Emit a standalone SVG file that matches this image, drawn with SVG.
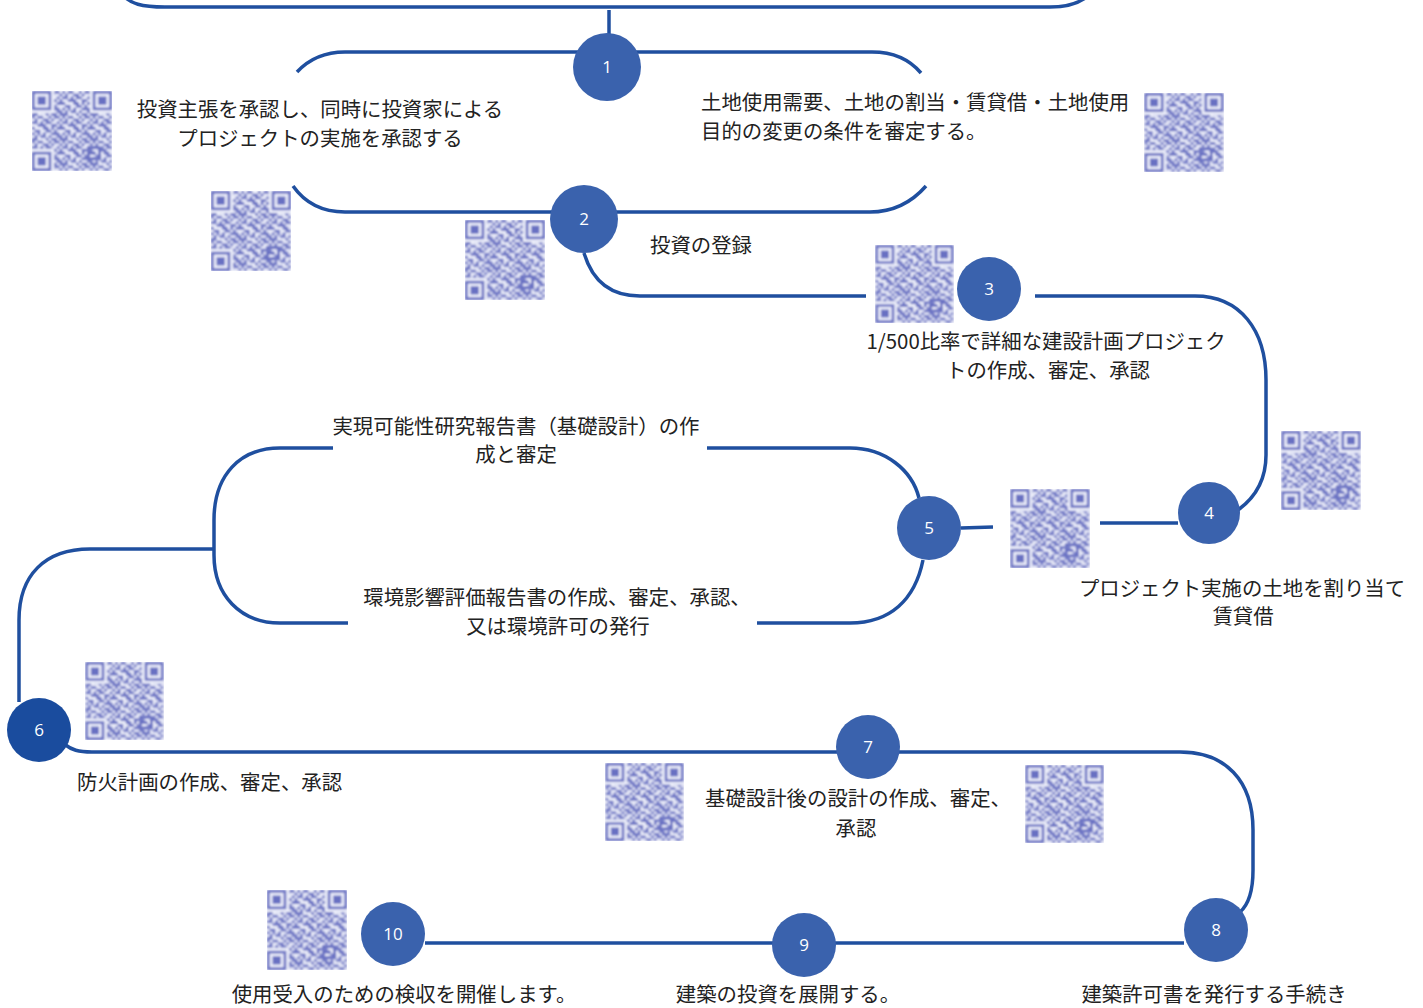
<svg xmlns="http://www.w3.org/2000/svg" xmlns:xlink="http://www.w3.org/1999/xlink" width="1423" height="1008" viewBox="0 0 1423 1008">
<style>
.ln{fill:none;stroke:#1f4f9f;stroke-width:3.5;stroke-linecap:butt}
.nd{fill:#3a62ad}
.nd6{fill:#1a4c9e}
.num{font-family:"Open Sans","Noto Sans",sans-serif;font-size:17px;fill:#fff;text-anchor:middle}
.t{font-family:"Noto Sans CJK JP","Noto Sans",sans-serif;font-size:20.4px;fill:#222}
.c{text-anchor:middle}
.qr{fill:#6870c2}
</style>
<defs>
<filter id="soft" x="-5%" y="-5%" width="110%" height="110%"><feGaussianBlur stdDeviation="0.3"/></filter>
<pattern id="qd" patternUnits="userSpaceOnUse" width="11" height="9">
<path class="qr" d="M0 0h1v1h-1zM2 0h2v1h-2zM6 0h1v1h-1zM8 0h2v1h-2zM1 1h1v1h-1zM4 1h2v1h-2zM7 1h1v1h-1zM10 1h1v1h-1zM0 2h2v1h-2zM3 2h1v1h-1zM5 2h2v1h-2zM9 2h1v1h-1zM2 3h3v1h-3zM7 3h2v1h-2zM10 3h1v1h-1zM0 4h1v1h-1zM4 4h2v1h-2zM7 4h1v1h-1zM9 4h2v1h-2zM1 5h2v1h-2zM5 5h2v1h-2zM8 5h1v1h-1zM0 6h1v1h-1zM2 6h1v1h-1zM4 6h1v1h-1zM7 6h3v1h-3zM1 7h1v1h-1zM3 7h2v1h-2zM6 7h1v1h-1zM9 7h2v1h-2zM0 8h2v1h-2zM5 8h1v1h-1zM7 8h2v1h-2zM10 8h1v1h-1z"/>
</pattern>
<symbol id="qrc" viewBox="0 0 29 29">
<g filter="url(#soft)">
<rect width="29" height="29" fill="#eef0fa"/>
<rect width="29" height="29" fill="url(#qd)"/>
<path fill="#eef0fa" d="M0 0h8v8h-8zM21 0h8v8h-8zM0 21h8v8h-8z"/>
<path class="qr" fill-rule="evenodd" d="M0 0h7v7h-7zM1 1v5h5v-5zM2 2h3v3h-3zM22 0h7v7h-7zM23 1v5h5v-5zM24 2h3v3h-3zM0 22h7v7h-7zM1 23v5h5v-5zM2 24h3v3h-3zM20 20h5v5h-5zM21 21v3h3v-3zM22 22h1v1h-1z"/>
</g>
</symbol>
</defs>
<rect width="1423" height="1008" fill="#fff"/>
<g id="connectors">
<path class="ln" d="M122 -6 C130 4 142 7 165 7 H1050 C1070 7 1082 2 1090 -6"/>
<path class="ln" d="M609 10 V34"/>
<path class="ln" d="M297 72 C310 58 325 52 345 52 H872 C895 52 910 60 921 73"/>
<path class="ln" d="M293 186 C305 203 322 212 345 212 H870 C893 212 912 202 926 186"/>
<path class="ln" d="M584 253 C592 280 610 296 640 296 H866"/>
<path class="ln" d="M1035 296 H1195 C1240 296 1266 330 1266 380 V455 C1266 478 1256 497 1238 510"/>
<path class="ln" d="M1178 523 H1100"/>
<path class="ln" d="M993 527 L961 528"/>
<path class="ln" d="M707 448 H850 C885 448 912 470 919 498"/>
<path class="ln" d="M923 560 C915 600 890 623 850 623 H757"/>
<path class="ln" d="M333 448 H280 C240 448 214 475 214 520 V555 C214 595 240 623 280 623 H348"/>
<path class="ln" d="M214 549 H90 C45 549 19 575 19 620 V702"/>
<path class="ln" d="M64 744 C72 750 78 752 92 752 H1180 C1225 752 1253 780 1253 830 V870 C1253 890 1248 905 1240 912"/>
<path class="ln" d="M1184 943 H425"/>
</g>
<g id="qrcodes">
<use id="qr1" xlink:href="#qrc" x="32" y="91" width="80" height="80"/>
<use id="qr2" xlink:href="#qrc" x="211" y="191" width="80" height="80"/>
<use id="qr3" xlink:href="#qrc" x="465" y="220" width="80" height="80"/>
<use id="qr4" xlink:href="#qrc" x="1144" y="93" width="80" height="79"/>
<use id="qr5" xlink:href="#qrc" x="875" y="245" width="79" height="78"/>
<use id="qr6" xlink:href="#qrc" x="1281" y="431" width="80" height="79"/>
<use id="qr7" xlink:href="#qrc" x="1010" y="489" width="80" height="79"/>
<use id="qr8" xlink:href="#qrc" x="85" y="662" width="79" height="78"/>
<use id="qr9" xlink:href="#qrc" x="605" y="763" width="79" height="78"/>
<use id="qr10" xlink:href="#qrc" x="1025" y="765" width="79" height="78"/>
<use id="qr11" xlink:href="#qrc" x="267" y="890" width="80" height="80"/>
</g>
<g id="node1"><circle class="nd" cx="607" cy="67" r="34"/><text class="num" x="607" y="73">1</text></g>
<g id="node2"><circle class="nd" cx="584" cy="219" r="34"/><text class="num" x="584" y="225">2</text></g>
<g id="node3"><circle class="nd" cx="989" cy="289" r="32"/><text class="num" x="989" y="295">3</text></g>
<g id="node4"><circle class="nd" cx="1209" cy="513" r="31"/><text class="num" x="1209" y="519">4</text></g>
<g id="node5"><circle class="nd" cx="929" cy="528" r="32"/><text class="num" x="929" y="534">5</text></g>
<g id="node6"><circle class="nd6" cx="39" cy="730" r="32"/><text class="num" x="39" y="736">6</text></g>
<g id="node7"><circle class="nd" cx="868" cy="747" r="32"/><text class="num" x="868" y="753">7</text></g>
<g id="node8"><circle class="nd" cx="1216" cy="930" r="32"/><text class="num" x="1216" y="936">8</text></g>
<g id="node9"><circle class="nd" cx="804" cy="945" r="32"/><text class="num" x="804" y="951">9</text></g>
<g id="node10"><circle class="nd" cx="393" cy="934" r="32"/><text class="num" x="393" y="940">10</text></g>
<g id="labels">
<text class="t c" x="320" y="117">投資主張を承認し、同時に投資家による</text>
<text class="t c" x="320" y="146">プロジェクトの実施を承認する</text>
<text class="t" x="701" y="110">土地使用需要、土地の割当・賃貸借・土地使用</text>
<text class="t" x="701" y="139">目的の変更の条件を審定する。</text>
<text class="t" x="650" y="253">投資の登録</text>
<text class="t c" x="1046" y="349">1/500比率で詳細な建設計画プロジェク</text>
<text class="t c" x="1048" y="378">トの作成、審定、承認</text>
<text class="t c" x="516" y="434">実現可能性研究報告書（基礎設計）の作</text>
<text class="t c" x="516" y="462">成と審定</text>
<text class="t c" x="557" y="605">環境影響評価報告書の作成、審定、承認、</text>
<text class="t c" x="558" y="634">又は環境許可の発行</text>
<text class="t c" x="1242" y="596">プロジェクト実施の土地を割り当て</text>
<text class="t c" x="1243" y="624">賃貸借</text>
<text class="t" x="77" y="790">防火計画の作成、審定、承認</text>
<text class="t c" x="858" y="806">基礎設計後の設計の作成、審定、</text>
<text class="t c" x="856" y="836">承認</text>
<text class="t c" x="404" y="1002">使用受入のための検収を開催します。</text>
<text class="t c" x="788" y="1002">建築の投資を展開する。</text>
<text class="t c" x="1214" y="1002">建築許可書を発行する手続き</text>
</g>
</svg>
